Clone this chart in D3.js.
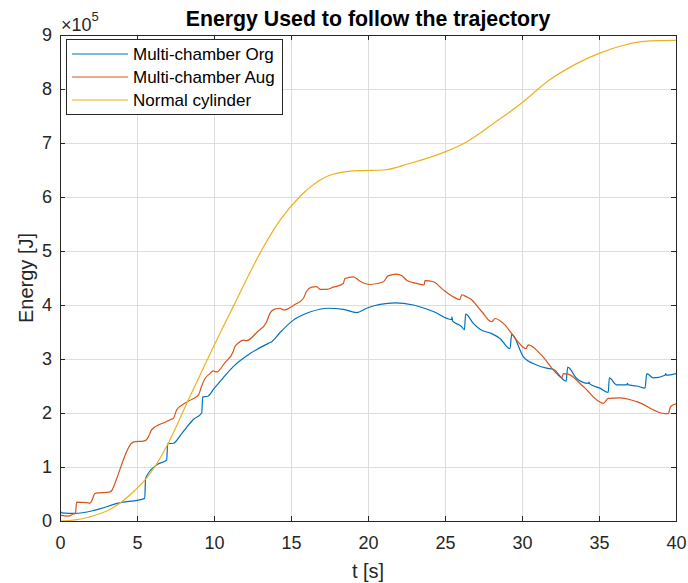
<!DOCTYPE html>
<html>
<head>
<meta charset="utf-8">
<script src="https://cdn.jsdelivr.net/npm/d3@7"></script>
<style>
  html, body { margin: 0; padding: 0; background: #fff; }
  svg { display: block; }
  text { font-family: "Liberation Sans", Arial, Helvetica, sans-serif; }
</style>
</head>
<body>
<svg id="chart" width="688" height="583"></svg>
<script>
// Energy values are in units of 1e5 J (the axis carries a x10^5 multiplier).
const tOrg = [0, 0.12, 0.97, 2.27, 3.79, 5.5, 5.56, 6.28, 6.93, 6.99, 7.36, 7.9, 8.66, 9.2, 9.27, 9.59,
  10.02, 10.5, 11.25, 12.34, 13.53, 13.75, 14.29, 15.15, 16.23, 17.42, 18.4, 19.26, 19.91, 20.78,
  21.75, 22.94, 24.24, 25.43, 25.45, 25.5, 26.08, 26.26, 26.34, 26.84, 27.27, 28.03, 28.57, 29.22,
  29.33, 30.09, 30.95, 31.6, 32.03, 32.86, 32.97, 33.55, 34.31, 34.35, 34.4, 35.06, 35.6, 35.67,
  36.15, 36.8, 36.85, 36.9, 37.45, 37.99, 38.1, 38.53, 39.29, 39.33, 39.37, 40];
const energyOrg = [0.20, 0.15, 0.14, 0.20, 0.33, 0.42, 0.79, 1.04, 1.13, 1.43, 1.44, 1.62, 1.88, 2.0, 2.30, 2.31,
  2.46, 2.62, 2.86, 3.10, 3.29, 3.32, 3.49, 3.72, 3.87, 3.94, 3.92, 3.86, 3.94, 4.01,
  4.04, 4.0, 3.88, 3.73, 3.78, 3.70, 3.60, 3.54, 3.83, 3.66, 3.55, 3.47, 3.38, 3.19,
  3.46, 3.04, 2.89, 2.83, 2.81, 2.59, 2.85, 2.64, 2.55, 2.57, 2.54, 2.46, 2.38, 2.65,
  2.52, 2.52, 2.55, 2.52, 2.50, 2.46, 2.73, 2.65, 2.70, 2.73, 2.70, 2.73];

const tAug = [0, 0.54, 0.87, 1.0, 1.08, 1.73, 1.95, 2.1, 2.27, 3.25, 3.4, 3.57, 4.65, 4.87, 5.41, 5.6, 5.74,
  5.95, 6.82, 7.2, 7.36, 7.58, 8.0, 8.33, 8.98, 9.2, 9.42, 9.7, 9.95, 10.17, 10.7, 11.25, 11.36, 11.6,
  11.9, 12.12, 12.8, 13.42, 13.64, 13.9, 14.29, 14.5, 14.72, 15.2, 15.8, 16.0, 16.34, 16.67, 16.88,
  17.32, 17.75, 18.4, 18.5, 19.05, 19.48, 20.13, 21.0, 21.3, 21.86, 22.2, 22.51, 23.16, 23.64, 23.7,
  24.24, 24.89, 25.54, 25.97, 26.08, 26.41, 26.62, 27.38, 28.03, 28.25, 28.79, 29.65, 30.26, 30.41,
  31.17, 32.25, 32.58, 32.68, 33.0, 33.98, 35.28, 35.6, 36.36, 37.45, 39.29, 39.5, 39.65, 40];
const energyAug = [0.11, 0.09, 0.13, 0.14, 0.35, 0.34, 0.33, 0.40, 0.51, 0.54, 0.58, 0.70, 1.44, 1.47, 1.48, 1.50, 1.56,
  1.69, 1.83, 1.88, 1.90, 2.06, 2.16, 2.22, 2.33, 2.50, 2.64, 2.72, 2.78, 2.76, 2.93, 3.14, 3.23, 3.30,
  3.35, 3.34, 3.50, 3.69, 3.85, 3.92, 3.94, 3.91, 3.92, 4.00, 4.12, 4.25, 4.33, 4.34, 4.29,
  4.29, 4.33, 4.40, 4.49, 4.52, 4.44, 4.38, 4.43, 4.54, 4.57, 4.54, 4.46, 4.40, 4.37, 4.45,
  4.43, 4.28, 4.15, 4.10, 4.19, 4.15, 4.12, 3.88, 3.69, 3.75, 3.66, 3.35, 3.19, 3.26,
  3.10, 2.73, 2.65, 2.73, 2.72, 2.49, 2.18, 2.27, 2.28, 2.21, 1.99, 1.99, 2.12, 2.17];

const tCyl = [0, 1, 1.84, 2.92, 3.79, 4.87, 5.52, 6.17, 7.03, 8.3, 9.09, 10.02, 11.25, 12.99, 14.29, 15.58,
  17.32, 18.83, 19.48, 21.0, 22.7, 25.04, 26.4, 28.14, 30.02, 31.8, 33.55, 35, 36.6, 38.3, 40];
const energyCyl = [0, 0.02, 0.07, 0.17, 0.31, 0.57, 0.76, 1.01, 1.44, 2.22, 2.70, 3.26, 3.97, 4.96, 5.57, 6.01,
  6.38, 6.48, 6.49, 6.50, 6.62, 6.84, 7.02, 7.36, 7.75, 8.17, 8.47, 8.66, 8.81, 8.89, 8.90];

const seriesNames = ["Multi-chamber Org", "Multi-chamber Aug", "Normal cylinder"];
const seriesColors = ["#0072BD", "#D95319", "#EDB120"];
const xTicks = [0, 5, 10, 15, 20, 25, 30, 35, 40];
const yTicks = [0, 1, 2, 3, 4, 5, 6, 7, 8, 9];

const series = [
  { name: seriesNames[0], color: seriesColors[0], t: tOrg, e: energyOrg },
  { name: seriesNames[1], color: seriesColors[1], t: tAug, e: energyAug },
  { name: seriesNames[2], color: seriesColors[2], t: tCyl, e: energyCyl }
];

const svg = d3.select("#chart");
const plotLeft = 60, plotRight = 676, plotTop = 35, plotBottom = 521;
const axisColor = "#262626";

const x = d3.scaleLinear().domain([0, 40]).range([plotLeft, plotRight]);
const y = d3.scaleLinear().domain([0, 9]).range([plotBottom, plotTop]);

// grid
const grid = svg.append("g").attr("stroke", "#dedede").attr("stroke-width", 1);
grid.selectAll("line.v").data(xTicks).join("line").attr("class", "v")
  .attr("x1", d => Math.round(x(d)) + 0.5).attr("x2", d => Math.round(x(d)) + 0.5)
  .attr("y1", plotTop).attr("y2", plotBottom);
grid.selectAll("line.h").data(yTicks).join("line").attr("class", "h")
  .attr("y1", d => Math.round(y(d)) + 0.5).attr("y2", d => Math.round(y(d)) + 0.5)
  .attr("x1", plotLeft).attr("x2", plotRight);

// data lines
const clipId = "plotclip";
svg.append("clipPath").attr("id", clipId).append("rect")
  .attr("x", plotLeft).attr("y", plotTop).attr("width", plotRight - plotLeft).attr("height", plotBottom - plotTop);

const line = d3.line()
  .x(d => x(d[0]))
  .y(d => y(d[1]))
  .curve(d3.curveMonotoneX);

svg.append("g").attr("clip-path", `url(#${clipId})`)
  .selectAll("path").data(series).join("path")
  .attr("fill", "none")
  .attr("stroke", d => d.color)
  .attr("stroke-width", 1.2)
  .attr("stroke-linejoin", "round")
  .attr("d", d => line(d.t.map((t, i) => [t, d.e[i]])));

// axes (ticks point inward, box drawn separately)
function styleAxis(g) {
  g.select(".domain").remove();
  g.selectAll(".tick line").attr("stroke", axisColor);
  g.selectAll("text").attr("fill", axisColor).style("font-size", "18px");
}
svg.append("g").attr("transform", `translate(0,${plotBottom})`)
  .call(d3.axisBottom(x).tickValues(xTicks).tickSize(-5).tickPadding(15).tickFormat(d3.format("d")))
  .call(styleAxis);
svg.append("g").attr("transform", `translate(0,${plotTop})`)
  .call(d3.axisTop(x).tickValues(xTicks).tickSize(-5).tickFormat(""))
  .call(styleAxis);
svg.append("g").attr("transform", `translate(${plotLeft},0)`)
  .call(d3.axisLeft(y).tickValues(yTicks).tickSize(-5).tickPadding(8).tickFormat(d3.format("d")))
  .call(styleAxis);
svg.append("g").attr("transform", `translate(${plotRight},0)`)
  .call(d3.axisRight(y).tickValues(yTicks).tickSize(-5).tickFormat(""))
  .call(styleAxis);

svg.append("rect")
  .attr("x", plotLeft + 0.5).attr("y", plotTop + 0.5)
  .attr("width", plotRight - plotLeft).attr("height", plotBottom - plotTop)
  .attr("fill", "none").attr("stroke", axisColor).attr("stroke-width", 1);

// exponent multiplier
const mult = svg.append("text").attr("x", 61).attr("y", 31).attr("fill", axisColor)
  .style("font-size", "18px");
mult.append("tspan").text("\u00d710");
mult.append("tspan").attr("dy", -10).style("font-size", "13px").text("5");

// title and axis labels
svg.append("text").attr("x", (plotLeft + plotRight) / 2).attr("y", 26)
  .attr("text-anchor", "middle").style("font-size", "21.3px").style("font-weight", "bold")
  .attr("fill", "#000").text("Energy Used to follow the trajectory");
svg.append("text").attr("x", (plotLeft + plotRight) / 2).attr("y", 578)
  .attr("text-anchor", "middle").style("font-size", "20px").attr("fill", axisColor)
  .text("t [s]");
svg.append("text").attr("transform", `translate(33,${(plotTop + plotBottom) / 2}) rotate(-90)`)
  .attr("text-anchor", "middle").style("font-size", "20px").attr("fill", axisColor)
  .text("Energy [J]");

// legend
const legend = svg.append("g");
legend.append("rect").attr("x", 66.5).attr("y", 39.5).attr("width", 216).attr("height", 75)
  .attr("fill", "#fff").attr("stroke", axisColor).attr("stroke-width", 1);
const rows = legend.selectAll("g.row").data(series).join("g").attr("class", "row")
  .attr("transform", (d, i) => `translate(0,${54 + i * 23})`);
rows.append("line").attr("x1", 72).attr("x2", 128).attr("y1", 0).attr("y2", 0)
  .attr("stroke", d => d.color).attr("stroke-width", 1.2);
rows.append("text").attr("x", 133).attr("y", 0).attr("dy", "0.35em")
  .style("font-size", "17px").attr("fill", "#000").text(d => d.name);
</script>
</body>
</html>
